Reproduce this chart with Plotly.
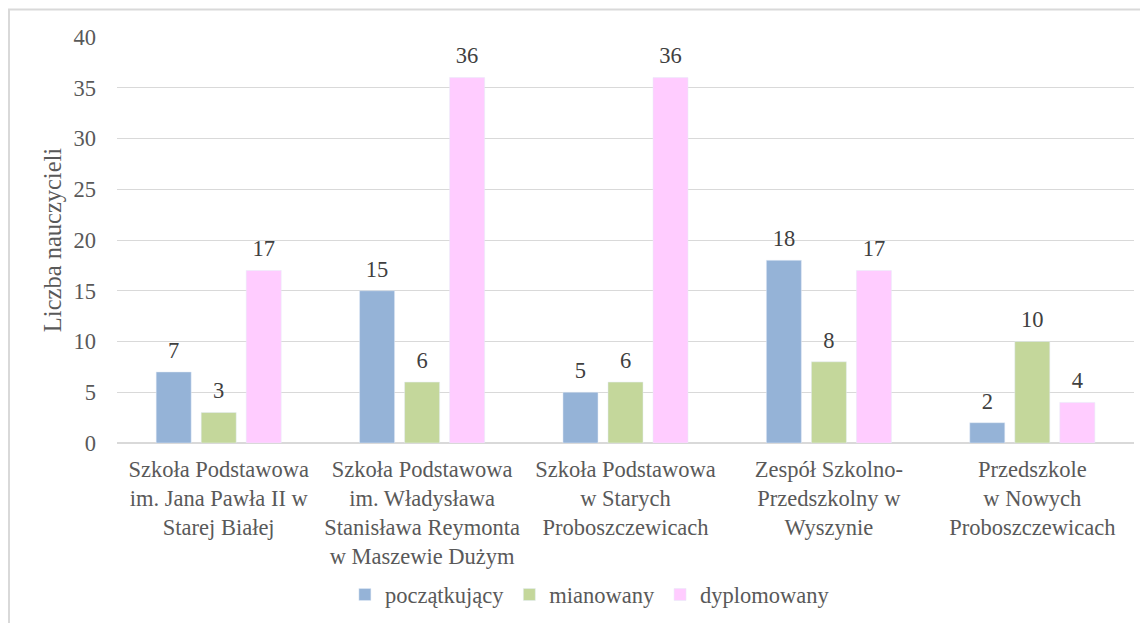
import plotly.graph_objects as go

categories = [
    "Szkoła Podstawowa<br>im. Jana Pawła II w<br>Starej Białej",
    "Szkoła Podstawowa<br>im. Władysława<br>Stanisława Reymonta<br>w Maszewie Dużym",
    "Szkoła Podstawowa<br>w Starych<br>Proboszczewicach",
    "Zespół Szkolno-<br>Przedszkolny w<br>Wyszynie",
    "Przedszkole<br>w Nowych<br>Proboszczewicach",
]
poczatkujacy = [7, 15, 5, 18, 2]
mianowany = [3, 6, 6, 8, 10]
dyplomowany = [17, 36, 36, 17, 4]

series_names = ["początkujący", "mianowany", "dyplomowany"]
series_values = [poczatkujacy, mianowany, dyplomowany]
colors = ["#95B3D7", "#C4D79B", "#FFCCFF"]

FONT = "Liberation Serif, Times New Roman, serif"
TXT = "#595959"
FS = 22.5

fig = go.Figure()
for i, (name, vals, col) in enumerate(zip(series_names, series_values, colors)):
    fig.add_trace(go.Bar(
        x=categories, y=vals, name=name, marker_color=col,
        offsetgroup=str(i), alignmentgroup="g",
    ))
for i, (name, vals) in enumerate(zip(series_names, series_values)):
    fig.add_trace(go.Scatter(
        x=categories, y=vals, mode="markers+text", showlegend=False,
        text=[str(v) for v in vals], textposition="top center",
        textfont=dict(family=FONT, size=FS, color="#404040"),
        marker=dict(size=12, opacity=0),
        offsetgroup=str(i), alignmentgroup="s", cliponaxis=False, hoverinfo="skip",
    ))

fig.update_layout(
    width=1140, height=615,
    margin=dict(l=109, r=14, t=29, b=180, autoexpand=False),
    paper_bgcolor="white", plot_bgcolor="white",
    barmode="group", bargap=0.336, bargroupgap=0.222,
    scattermode="group", scattergap=0.336,
    font=dict(family=FONT, size=FS, color=TXT),
    showlegend=True,
    legend=dict(orientation="h", x=0.465, y=-0.374, xanchor="center", yanchor="middle",
                font=dict(family=FONT, size=FS, color=TXT),
                itemwidth=30, tracegroupgap=0),
    xaxis=dict(showgrid=False, showline=False, ticks="", ticklabelstandoff=10, automargin=False,
               tickfont=dict(family=FONT, size=FS, color=TXT)),
    yaxis=dict(range=[0, 40], dtick=5, showgrid=True, gridcolor="#D9D9D9", gridwidth=1.3,
               zeroline=True, zerolinecolor="#D9D9D9", zerolinewidth=1.5,
               showline=False, ticks="", ticklabelstandoff=20, automargin=False,
               tickfont=dict(family=FONT, size=FS, color=TXT),
               title=dict(text="Liczba nauczycieli", standoff=4,
                          font=dict(family=FONT, size=24.5, color=TXT))),
    shapes=[dict(type="rect", xref="paper", yref="paper",
                 x0=-0.1062, x1=1.2, y0=-0.6, y1=1.0677,
                 line=dict(color="#D9D9D9", width=2), fillcolor="rgba(0,0,0,0)", layer="below")],
)

fig.write_html("out.html")
